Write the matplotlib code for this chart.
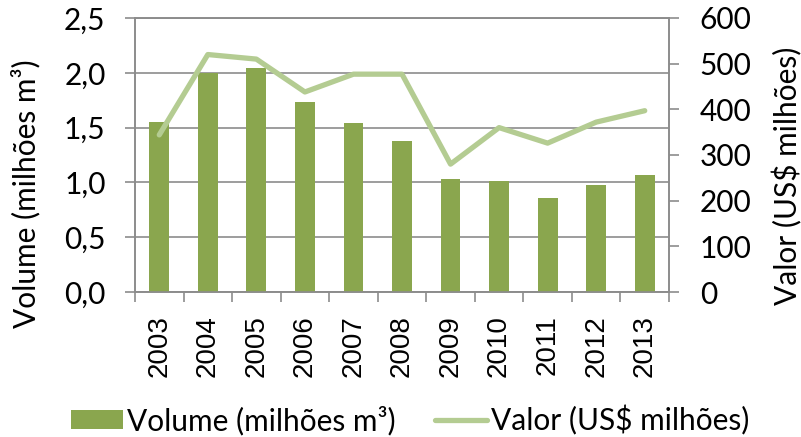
import matplotlib
matplotlib.use("Agg")
import matplotlib.pyplot as plt

years = ["2003", "2004", "2005", "2006", "2007", "2008", "2009", "2010", "2011", "2012", "2013"]
volume = [1.55, 2.00, 2.04, 1.73, 1.54, 1.38, 1.03, 1.01, 0.86, 0.98, 1.07]
valor = [344, 520, 510, 438, 477, 477, 280, 360, 326, 372, 397]

plt.rcParams['font.family'] = ['Lato', 'DejaVu Sans']
FS = 21.5
W, H = 801, 437
fig = plt.figure(figsize=(W/100, H/100), dpi=100)
L, R, T, B = 135, 669, 18, 292
ax = fig.add_axes([L/W, 1-B/H, (R-L)/W, (B-T)/H])
ax2 = ax.twinx()

x = list(range(len(years)))
bar_c = '#8AA64E'
line_c = '#B4CC92'
grid_c = '#8C8C8C'

ax.bar(x, volume, width=0.41, color=bar_c, zorder=3, label='Volume (milhões m³)')
ax.set_ylim(0, 2.5)
ax.set_yticks([0, 0.5, 1.0, 1.5, 2.0, 2.5])
ax.set_yticklabels(['0,0', '0,5', '1,0', '1,5', '2,0', '2,5'])
ax.set_xlim(-0.5, len(years) - 0.5)
ax.set_xticks([i - 0.5 for i in range(len(years) + 1)], minor=False)
ax.set_xticklabels([])
ax.set_xticks(x, minor=True)
ax.set_xticklabels(years, minor=True, rotation=90)
for lab in ax.get_xticklabels(minor=True):
    lab.set_fontfamily(['Liberation Sans', 'DejaVu Sans'])
    lab.set_fontsize(20)
ax.tick_params(axis='x', which='minor', length=0, pad=16.5)
ax.tick_params(axis='x', which='major', length=7.2, color=grid_c, direction='out', width=1.2)
ax.tick_params(axis='y', labelsize=FS, length=7.2, color=grid_c, pad=14, width=1.2)
ax.grid(axis='y', color=grid_c, linewidth=1.2, zorder=0)
ax.set_axisbelow(True)

ax2.plot(x, valor, color=line_c, linewidth=3.8, solid_capstyle='round', zorder=4, label='Valor (US$ milhões)')
ax2.set_ylim(0, 600)
ax2.set_yticks([0, 100, 200, 300, 400, 500, 600])
ax2.tick_params(axis='y', labelsize=FS, length=7.2, color=grid_c, pad=15, width=1.2)

fig.text(26/W, 1-194/H, 'Volume (milhões m³)', rotation=90, ha='center', va='center', fontsize=FS)
fig.text(787/W, 1-176/H, 'Valor (US$ milhões)', rotation=90, ha='center', va='center', fontsize=FS)

for a in (ax, ax2):
    for s in a.spines.values():
        s.set_color(grid_c)
        s.set_linewidth(1.2)

h1, l1 = ax.get_legend_handles_labels()
h2, l2 = ax2.get_legend_handles_labels()
fig.legend(h1 + h2, l1 + l2, loc='center', bbox_to_anchor=(410/W, 1-420/H), ncol=2,
           frameon=False, fontsize=FS, handlelength=1.75, handleheight=0.6,
           handletextpad=0.13, columnspacing=1.3, borderpad=0, borderaxespad=0)

fig.savefig('out.png', dpi=100)
